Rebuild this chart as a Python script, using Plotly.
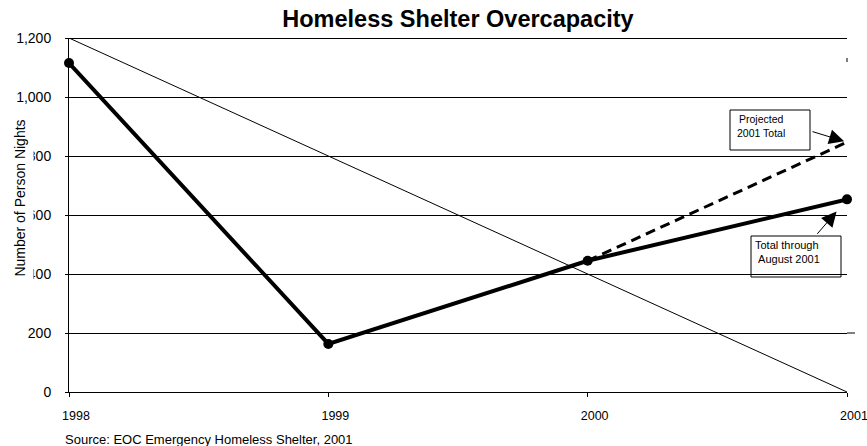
import plotly.graph_objects as go

# Person nights of shelter overcapacity by year
years = [1998, 1999, 2000, 2001]
person_nights = [1115, 163, 445, 653]

# Projection of the 2001 total from the 2000 value
proj_years = [2000, 2001]
proj_nights = [445, 847]

# Straight reference line across the plot
ref_years = [1998, 2001]
ref_nights = [1200, 0]

x_ticks = [1998, 1999, 2000, 2001]
x_tick_text = ["1998", "1999", "2000", "2001"]
y_ticks = [0, 200, 400, 600, 800, 1000, 1200]
y_tick_text = ["0", "200", "400", "600", "800", "1,000", "1,200"]

FONT = "Liberation Sans, Arial, Helvetica, sans-serif"
W, H = 867, 446
ML, MR, MT, MB = 69, 20, 38, 54
PW, PH = W - ML - MR, H - MT - MB


def px_x(p):
    """Pixel column -> paper x."""
    return (p - ML) / PW


def px_y(p):
    """Pixel row -> paper y."""
    return (H - MB - p) / PH


fig = go.Figure()

fig.add_trace(go.Scatter(
    x=ref_years, y=ref_nights, mode="lines",
    line=dict(color="black", width=1), cliponaxis=False,
))
fig.add_trace(go.Scatter(
    x=proj_years, y=proj_nights, mode="lines",
    line=dict(color="black", width=3, dash="10px,6px"), cliponaxis=False,
))
fig.add_trace(go.Scatter(
    x=years, y=person_nights, mode="lines+markers",
    line=dict(color="black", width=4),
    marker=dict(color="black", size=10), cliponaxis=False,
))

shapes = [
    # heavier top border at 1,200
    dict(type="line", xref="paper", yref="y", x0=0, x1=1, y0=1200, y1=1200,
         line=dict(color="black", width=2)),
    # the 200 line starts a little right of the axis and runs past the end
    dict(type="line", xref="paper", yref="y", x0=px_x(69.6), x1=px_x(77), y0=200, y1=200,
         line=dict(color="white", width=3), layer="between"),
    dict(type="line", xref="paper", yref="y", x0=1, x1=px_x(855), y0=200, y1=200,
         line=dict(color="black", width=1)),
    # small stray mark at top right
    dict(type="line", xref="paper", yref="paper", x0=1, x1=1,
         y0=px_y(62), y1=px_y(58), line=dict(color="black", width=1)),
    # callout boxes
    dict(type="rect", xref="paper", yref="paper",
         x0=px_x(730), x1=px_x(810), y0=px_y(150), y1=px_y(110),
         line=dict(color="black", width=1)),
    dict(type="rect", xref="paper", yref="paper",
         x0=px_x(751), x1=px_x(841), y0=px_y(277), y1=px_y(236),
         line=dict(color="black", width=1)),
]

annotations = [
    # y-axis title on a white band
    dict(text="Number of Person Nights", textangle=-90, xref="paper", yref="paper",
         x=px_x(19), y=px_y(198), xanchor="center", yanchor="middle",
         showarrow=False, bgcolor="white", width=168, height=27, borderpad=0,
         font=dict(family=FONT, size=14, color="black")),
    dict(text="Source: EOC Emergency Homeless Shelter, 2001", xref="paper", yref="paper",
         x=px_x(63), y=px_y(439), xanchor="left", yanchor="middle", showarrow=False,
         font=dict(family=FONT, size=13, color="black")),
    dict(text="Projected<br>2001 Total", xref="paper", yref="paper",
         x=px_x(761), y=px_y(126), xanchor="center", yanchor="middle", showarrow=False,
         align="center", font=dict(family=FONT, size=10.5, color="black")),
    dict(text="Total through<br>\u00a0August 2001", xref="paper", yref="paper",
         x=px_x(753), y=px_y(252.5), xanchor="left", yanchor="middle", showarrow=False,
         align="left", font=dict(family=FONT, size=11, color="black")),
    # arrows from the callouts to the 2001 values
    dict(text="", x=proj_years[-1], y=proj_nights[-1], xref="x", yref="y",
         ax=-36, ay=-11, showarrow=True, arrowhead=2, arrowsize=3, arrowwidth=1,
         arrowcolor="black", standoff=3),
    dict(text="", x=years[-1], y=person_nights[-1], xref="x", yref="y",
         ax=-31, ay=36, showarrow=True, arrowhead=2, arrowsize=3, arrowwidth=1,
         arrowcolor="black", standoff=16),
]

fig.update_layout(
    width=W, height=H, autosize=False,
    margin=dict(l=ML, r=MR, t=MT, b=MB, pad=0, autoexpand=False),
    paper_bgcolor="white", plot_bgcolor="white",
    showlegend=False, hovermode=False,
    font=dict(family=FONT, color="black"),
    title=dict(text="<b>Homeless Shelter Overcapacity</b>", xref="container",
               x=458 / W, y=1 - 19 / H, xanchor="center", yanchor="middle",
               font=dict(family=FONT, size=23.5, color="black")),
    shapes=shapes, annotations=annotations,
    xaxis=dict(range=[1998, 2001], tickvals=x_ticks, ticktext=x_tick_text,
               showgrid=False, zeroline=False, showline=True, linecolor="black",
               linewidth=1, ticks="outside", ticklen=4, tickcolor="black",
               ticklabelshift=7, ticklabelstandoff=8, ticklabeloverflow="allow",
               automargin=False,
               tickfont=dict(family=FONT, size=12.5, color="black")),
    yaxis=dict(range=[0, 1200], tickvals=y_ticks, ticktext=y_tick_text,
               showgrid=True, gridcolor="black", gridwidth=1,
               zeroline=False, showline=True, linecolor="black",
               linewidth=1, ticks="outside", ticklen=3, tickcolor="black",
               ticklabelstandoff=11, automargin=False,
               tickfont=dict(family=FONT, size=14, color="black")),
)

fig.write_html("out.html")
